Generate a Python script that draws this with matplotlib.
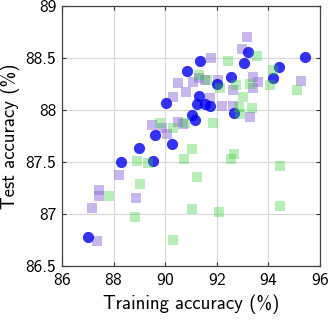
import matplotlib.pyplot as plt

# blue circles
blue_x = [87.01, 88.29, 88.98, 89.53, 89.60, 90.03, 90.26, 90.84, 91.35, 91.31,
          91.04, 91.16, 91.23, 91.54, 91.74, 92.01, 92.55, 92.67, 93.05, 93.21,
          94.18, 94.41, 95.42]
blue_y = [86.78, 87.50, 87.64, 87.51, 87.76, 88.07, 87.67, 88.38, 88.47, 88.14,
          87.95, 87.90, 88.06, 88.06, 88.04, 88.25, 88.32, 87.97, 88.45, 88.56,
          88.31, 88.41, 88.51]

# purple squares
purple_x = [87.36, 87.16, 87.43, 87.43, 88.21, 88.87, 89.49, 90.07, 90.30, 90.50,
            90.50, 89.88, 90.69, 91.08, 91.31, 91.78, 92.05, 91.74, 92.20, 92.63,
            92.63, 93.17, 92.98, 93.40, 93.60, 93.40, 93.29, 95.26, 91.54, 90.81]
purple_y = [86.74, 87.06, 87.23, 87.17, 87.38, 87.15, 87.86, 87.77, 88.13, 88.26,
            87.89, 87.83, 87.87, 88.27, 88.31, 88.50, 88.29, 88.12, 88.04, 88.04,
            88.19, 88.70, 88.59, 88.32, 88.27, 88.21, 87.93, 88.28, 88.29, 88.17]

# green squares
green_x = [90.30, 88.83, 87.82, 89.02, 88.91, 89.33, 89.80, 90.30, 90.77, 91.04,
           90.73, 91.23, 91.04, 92.09, 92.55, 92.67, 94.45, 94.45, 91.85, 92.43,
           93.56, 94.18, 94.06, 95.11, 91.31, 92.74, 93.29, 93.02, 92.86, 93.36,
           92.90, 91.62, 92.12]
green_y = [86.75, 86.97, 87.17, 87.29, 87.51, 87.49, 87.88, 87.83, 87.88, 87.63,
           87.53, 87.36, 87.05, 87.02, 87.53, 87.58, 87.46, 87.08, 87.88, 88.47,
           88.52, 88.39, 88.24, 88.19, 88.34, 88.24, 88.25, 88.13, 88.03, 88.02,
           87.96, 88.29, 88.21]

plt.rcParams["font.family"] = ["cmss10", "DejaVu Sans"]
plt.rcParams["axes.formatter.use_mathtext"] = True

fig = plt.figure(figsize=(3.31, 3.24), dpi=100)
ax = fig.add_axes([0.187, 0.179, 0.780, 0.802])

ax.scatter(purple_x, purple_y, marker="s", s=55, color="mediumpurple",
           alpha=0.5, linewidths=0, zorder=2)
ax.scatter(blue_x, blue_y, marker="o", s=65, color="#0000ee",
           alpha=0.8, linewidths=0, zorder=3)
ax.scatter(green_x, green_y, marker="s", s=55, color="limegreen",
           alpha=0.35, linewidths=0, zorder=4)

ax.set_xlim(86, 96)
ax.set_ylim(86.5, 89)
ax.set_xticks([86, 88, 90, 92, 94, 96])
ax.set_yticks([86.5, 87, 87.5, 88, 88.5, 89])
ax.set_yticklabels(["86.5", "87", "87.5", "88", "88.5", "89"])
ax.grid(True, color="#d9d9d9", linewidth=0.9, zorder=0)
ax.set_axisbelow(True)
ax.tick_params(direction="in", top=True, right=True, labelsize=12.5,
               length=3, color="#333333", pad=4)
for s in ax.spines.values():
    s.set_color("#444444")
    s.set_linewidth(0.9)

ax.set_xlabel("Training accuracy (%)", fontsize=13.5, labelpad=5)
ax.set_ylabel("Test accuracy (%)", fontsize=13.5, labelpad=4)

fig.savefig("out.png", dpi=100)
